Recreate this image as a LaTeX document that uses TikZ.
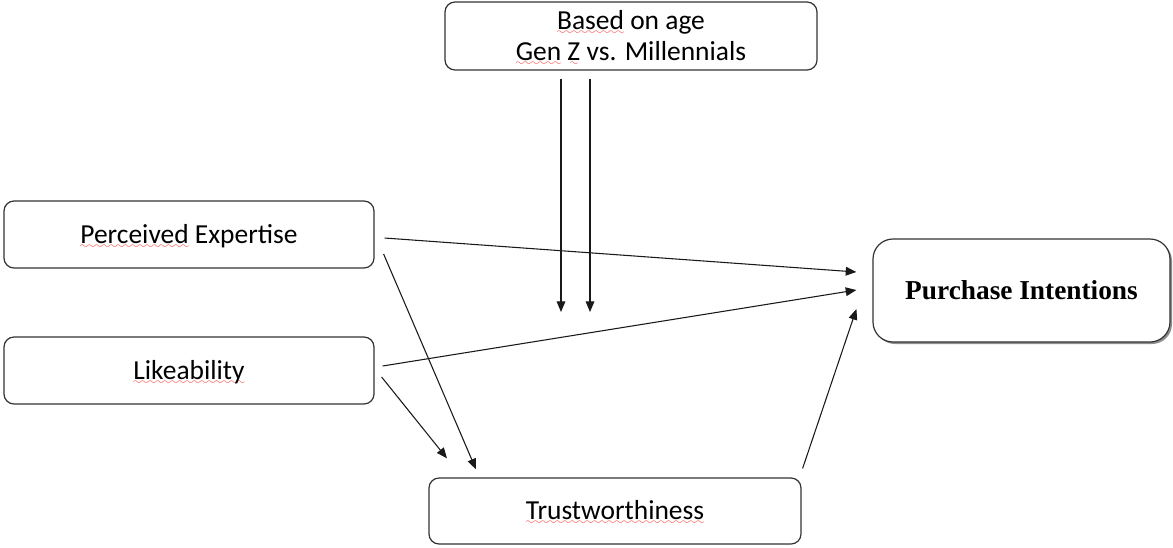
\documentclass[tikz,border=0pt]{standalone}
\usepackage{fontspec}
\setmainfont{Carlito}
\newfontfamily\tnr{Liberation Serif}
\usetikzlibrary{arrows.meta,calc,shadows}
\font\sixly=lasy7
\newcommand\sq[1]{\leavevmode\setbox0\hbox{#1}\rlap{\color{red!85}\lower4pt\hbox to \wd0{\xleaders\hbox{\sixly\char58}\hfil}}\box0\relax}
\tikzset{
  box/.style={draw=black!80, line width=0.9pt, rounded corners=7.5pt, fill=white,
    align=center, font=\fontsize{20.6pt}{23.25pt}\selectfont, inner sep=0pt},
  oneline/.style={text height=15pt, text depth=2.2pt},
  arr/.style={-{Triangle[length=8pt,width=6.5pt]}, line width=0.8pt, black!90},
}
\begin{document}
\begin{tikzpicture}[x=0.75pt,y=-0.75pt]
\useasboundingbox (0,0) rectangle (1173,547);
\node[box, minimum width=279pt, minimum height=51pt, text depth=2.2pt] (top) at (631,36)
  {\rule{0pt}{15pt}\sq{Based} on age\\ \sq{Gen} \sq{Z} vs. Millennials};
\node[box, oneline, minimum width=277.5pt, minimum height=50.25pt] (pe) at (189,234.5)
  {\sq{Perceived} Expertise};
\node[box, oneline, minimum width=277.5pt, minimum height=50.25pt] (lk) at (189,370.5)
  {\sq{Likeability}};
\node[box, minimum width=222.75pt, minimum height=77.25pt, rounded corners=15pt,
  text height=14pt, text depth=0pt,
  drop shadow={shadow xshift=1.5pt, shadow yshift=-1.5pt, fill=black!55, opacity=0.8},
  font=\tnr\bfseries\fontsize{20.5pt}{23pt}\selectfont] (pi) at (1021.5,290.5)
  {Purchase Intentions};
\node[box, oneline, minimum width=279pt, minimum height=49.5pt] (tr) at (615,511)
  {\sq{Trustworthiness}};
\coordinate (m1) at (561,312);
\coordinate (m2) at (590,312);
\draw[arr] ($(top.south)+(-70,8)$) -- (m1);
\draw[arr] ($(top.south)+(-41,8)$) -- (m2);
\draw[arr] ($(pe.east)+(10,3.5)$) -- ($(pi.west)+(-16,-18.5)$);
\draw[arr] ($(lk.east)+(8,-4.5)$) -- ($(pi.west)+(-16,-0.5)$);
\draw[arr] ($(pe.east)+(9,19.5)$) -- ($(tr.north)+(-139,-8)$);
\draw[arr] ($(lk.east)+(7,6.5)$) -- ($(tr.north)+(-168,-19)$);
\draw[arr] ($(tr.north east)+(1,-9)$) -- ($(pi.west)+(-16,18.5)$);
\end{tikzpicture}
\end{document}
